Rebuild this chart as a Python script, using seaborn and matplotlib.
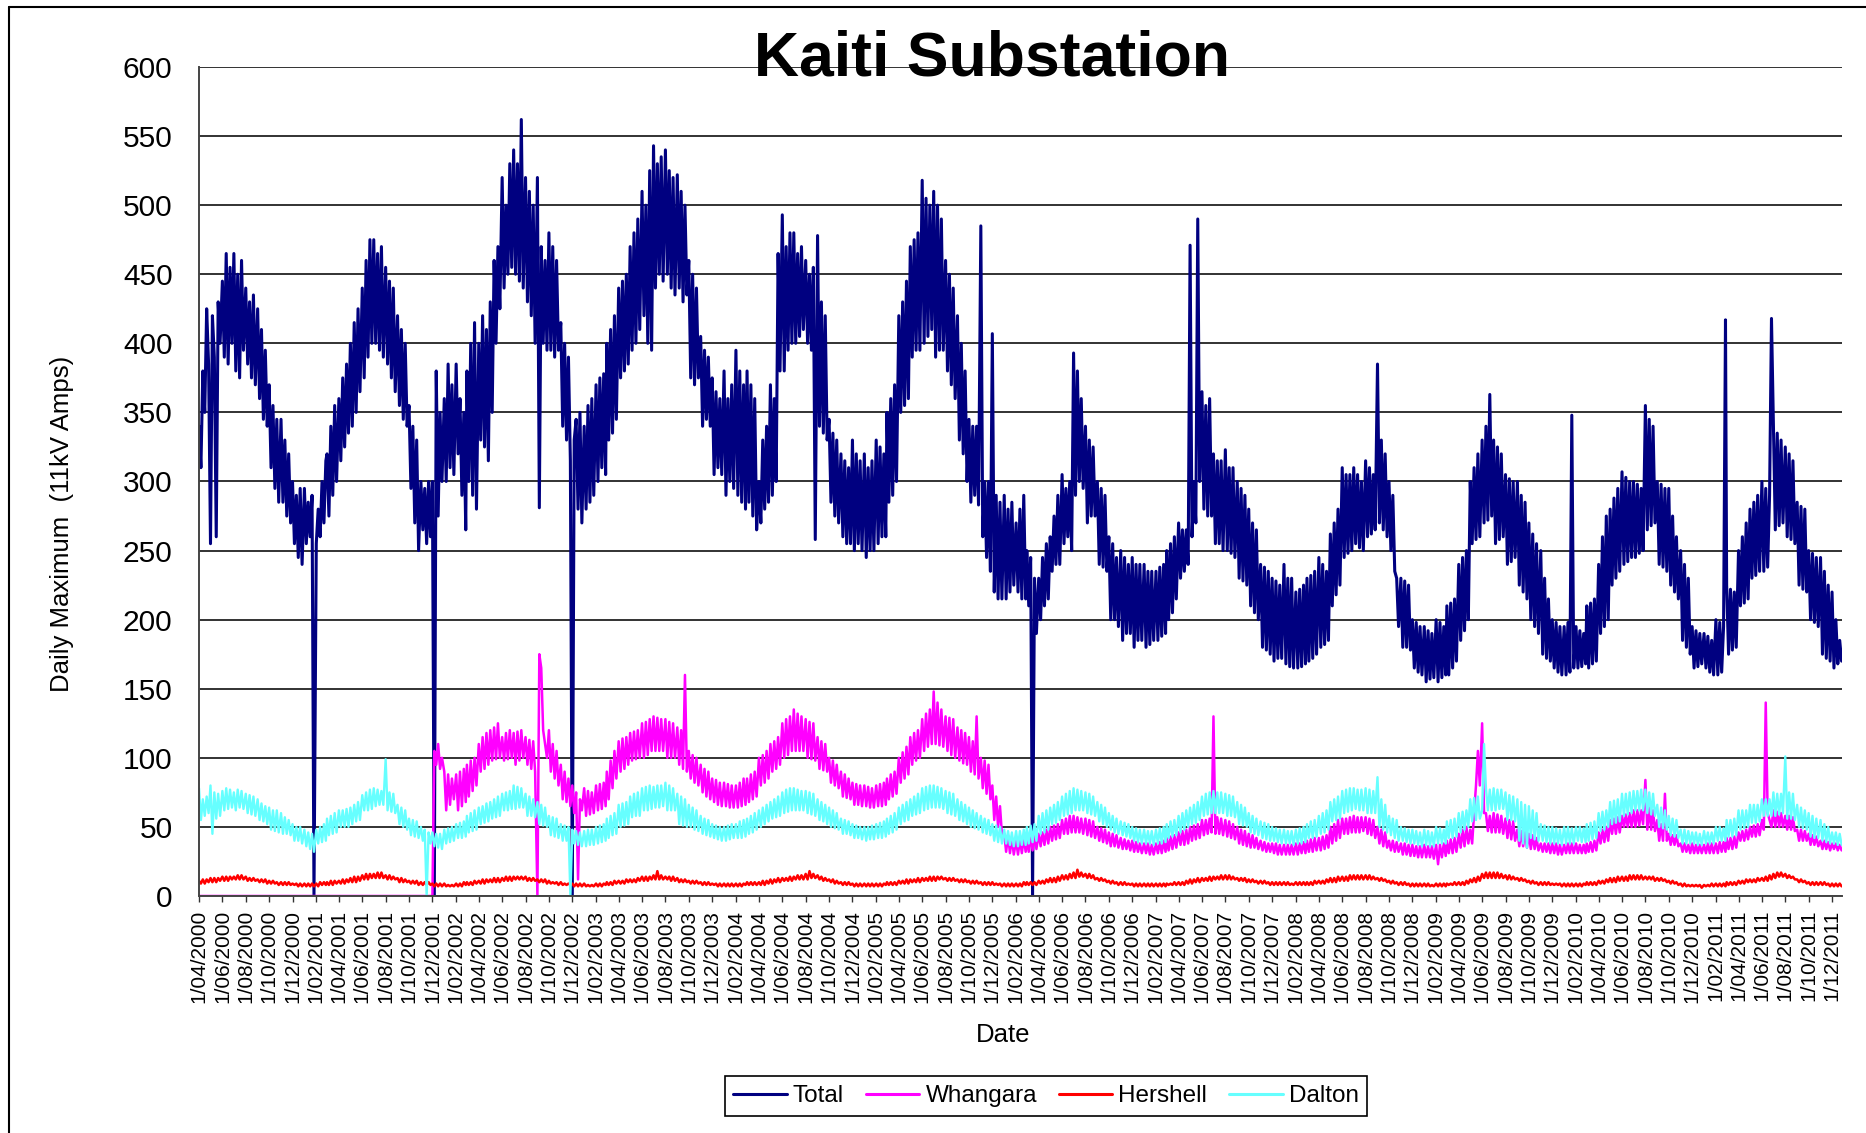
import pandas as pd
import matplotlib
matplotlib.use("Agg")
import matplotlib.pyplot as plt
from matplotlib.lines import Line2D
import seaborn as sns

# Daily-maximum feeder currents (11 kV amps). Six readings per month
# (1st, 6th, 11th, 16th, 21st, 26th), one row per month, alternating the
# upper and lower end of the day-to-day swing.

TOTAL_2000 = [
    [340, 310, 380, 350, 425, 385], [255, 420, 390, 260, 430, 400],
    [445, 390, 465, 385, 455, 400], [465, 380, 450, 375, 460, 395],
    [440, 385, 430, 375, 435, 370], [425, 360, 410, 345, 395, 340],
    [370, 310, 355, 295, 345, 285], [345, 285, 330, 275, 320, 270],
    [300, 255, 290, 245, 295, 240]]
TOTAL_2001 = [
    [295, 255, 285, 260, 290, 0], [255, 280, 260, 300, 270, 315],
    [320, 275, 340, 290, 355, 300], [360, 315, 375, 325, 385, 335],
    [400, 340, 415, 350, 425, 365], [440, 375, 460, 390, 475, 400],
    [475, 400, 465, 395, 470, 390], [455, 385, 445, 375, 440, 365],
    [420, 355, 410, 345, 400, 340], [355, 295, 340, 270, 330, 250],
    [300, 265, 295, 255, 300, 260], [300, 0, 380, 275, 350, 300]]
TOTAL_2002 = [
    [360, 300, 385, 310, 370, 305], [385, 320, 360, 290, 350, 265],
    [380, 300, 400, 290, 415, 280], [400, 330, 420, 325, 410, 315],
    [430, 350, 460, 400, 470, 425], [520, 440, 500, 450, 530, 455],
    [540, 450, 530, 445, 562, 440], [520, 430, 510, 420, 500, 400],
    [520, 281, 470, 400, 460, 395], [480, 395, 470, 390, 460, 395],
    [415, 340, 400, 330, 390, 315], [0, 330, 345, 280, 350, 270]]
TOTAL_2003 = [
    [340, 280, 355, 285, 360, 290], [370, 300, 375, 310, 378, 305],
    [400, 330, 410, 335, 420, 345], [440, 375, 445, 380, 450, 385],
    [470, 395, 480, 400, 490, 410], [510, 420, 500, 400, 525, 395],
    [543, 440, 530, 450, 535, 445], [540, 450, 525, 440, 520, 435],
    [522, 440, 510, 430, 500, 435], [460, 375, 450, 370, 440, 375],
    [405, 340, 395, 345, 390, 340], [375, 305, 365, 310, 360, 305]]
TOTAL_2004 = [
    [380, 290, 360, 300, 370, 295], [395, 290, 380, 285, 370, 280],
    [380, 285, 370, 275, 360, 265], [300, 270, 330, 280, 340, 285],
    [370, 290, 360, 300, 465, 380], [493, 380, 470, 395, 480, 400],
    [480, 400, 465, 405, 470, 410], [460, 400, 450, 395, 455, 258],
    [478, 340, 430, 335, 420, 330], [345, 285, 335, 275, 330, 270],
    [320, 260, 315, 255, 310, 255], [330, 250, 320, 255, 315, 250]]
TOTAL_2005 = [
    [320, 245, 310, 250, 315, 250], [330, 255, 325, 260, 320, 260],
    [350, 285, 360, 290, 370, 300], [420, 350, 430, 355, 445, 360],
    [470, 390, 475, 395, 480, 395], [518, 400, 505, 405, 500, 410],
    [510, 390, 500, 395, 490, 395], [460, 380, 450, 370, 440, 360],
    [420, 330, 400, 320, 380, 300], [345, 285, 340, 290, 340, 283],
    [485, 260, 300, 245, 300, 235], [407, 220, 290, 215, 285, 215]]
TOTAL_2006 = [
    [290, 215, 280, 220, 285, 225], [270, 220, 280, 215, 290, 215],
    [250, 210, 245, 0, 230, 190], [230, 200, 245, 210, 255, 215],
    [260, 235, 275, 240, 290, 240], [305, 255, 295, 260, 300, 250],
    [393, 290, 380, 300, 360, 295], [340, 270, 330, 275, 325, 275],
    [300, 240, 295, 238, 290, 235], [260, 200, 255, 200, 245, 195],
    [250, 185, 245, 190, 240, 190], [245, 180, 240, 185, 240, 185]]
TOTAL_2007 = [
    [240, 180, 235, 182, 235, 185], [235, 185, 238, 188, 240, 190],
    [250, 200, 255, 205, 260, 215], [270, 230, 265, 235, 265, 240],
    [471, 260, 300, 270, 490, 300], [365, 280, 355, 275, 360, 275],
    [320, 255, 315, 255, 315, 250], [323, 250, 310, 248, 310, 245],
    [300, 230, 295, 228, 290, 225], [280, 210, 270, 205, 265, 200],
    [240, 180, 238, 178, 235, 175], [230, 170, 228, 172, 225, 172]]
TOTAL_2008 = [
    [240, 168, 230, 166, 230, 165], [220, 165, 222, 166, 225, 168],
    [230, 170, 232, 172, 235, 175], [245, 180, 240, 182, 235, 185],
    [262, 210, 270, 218, 280, 225], [310, 245, 305, 248, 305, 250],
    [310, 255, 305, 252, 300, 250], [315, 260, 310, 262, 305, 265],
    [385, 270, 330, 265, 320, 260], [300, 250, 290, 235, 230, 195],
    [230, 180, 228, 180, 225, 178], [200, 165, 198, 162, 195, 160]]
TOTAL_2009 = [
    [195, 155, 192, 157, 190, 158], [200, 155, 198, 158, 195, 160],
    [210, 160, 212, 165, 215, 170], [240, 185, 245, 192, 250, 200],
    [300, 255, 310, 258, 320, 260], [330, 270, 340, 272, 363, 275],
    [330, 255, 325, 258, 320, 260], [305, 240, 302, 242, 300, 245],
    [300, 225, 290, 220, 285, 215], [270, 200, 262, 195, 255, 190],
    [250, 175, 230, 172, 215, 170], [200, 165, 198, 162, 195, 160]]
TOTAL_2010 = [
    [195, 160, 198, 162, 348, 165], [195, 165, 192, 166, 190, 168],
    [210, 165, 212, 168, 215, 170], [240, 190, 260, 195, 275, 200],
    [280, 225, 288, 230, 295, 235], [307, 240, 303, 242, 300, 245],
    [300, 245, 298, 248, 295, 250], [355, 265, 345, 268, 340, 270],
    [300, 240, 298, 238, 295, 235], [295, 225, 275, 220, 260, 215],
    [250, 185, 240, 180, 230, 175], [195, 165, 192, 166, 190, 168]]
TOTAL_2011 = [
    [190, 165, 188, 162, 185, 160], [200, 160, 198, 162, 195, 417],
    [225, 175, 222, 178, 220, 180], [250, 210, 260, 212, 270, 215],
    [280, 230, 285, 232, 290, 235], [300, 235, 295, 238, 290, 418],
    [340, 265, 335, 268, 330, 270], [325, 260, 320, 258, 315, 255],
    [285, 225, 282, 222, 280, 220], [250, 200, 248, 198, 245, 195],
    [245, 175, 235, 172, 225, 170], [220, 165, 200, 168, 185, 170]]

WHANGARA_2000 = [[0, 0, 0, 0, 0, 0]] * 9
WHANGARA_2001 = [[0, 0, 0, 0, 0, 0]] * 11 + [[0, 105, 95, 110, 92, 100]]
WHANGARA_2002 = [
    [90, 62, 88, 66, 85, 70], [88, 62, 90, 65, 92, 68],
    [95, 72, 98, 76, 100, 80], [110, 90, 115, 92, 118, 95],
    [120, 98, 122, 99, 125, 100], [115, 98, 118, 99, 120, 100],
    [118, 95, 119, 98, 120, 100], [115, 95, 113, 92, 112, 90],
    [0, 175, 165, 120, 110, 100], [120, 90, 110, 85, 105, 80],
    [95, 70, 90, 68, 85, 65], [80, 60, 75, 12, 70, 62]]
WHANGARA_2003 = [
    [78, 58, 76, 59, 75, 60], [80, 62, 81, 63, 82, 65],
    [90, 70, 98, 78, 105, 85], [112, 90, 114, 92, 115, 95],
    [118, 98, 119, 99, 120, 100], [125, 100, 126, 102, 128, 105],
    [130, 105, 129, 105, 128, 105], [128, 100, 126, 100, 125, 100],
    [122, 95, 120, 92, 160, 90], [105, 85, 102, 82, 100, 80],
    [95, 75, 92, 72, 90, 70], [85, 68, 84, 66, 82, 65]]
WHANGARA_2004 = [
    [82, 65, 81, 64, 80, 64], [80, 64, 82, 65, 85, 66],
    [85, 68, 88, 70, 90, 72], [100, 80, 102, 82, 105, 85],
    [110, 90, 112, 92, 115, 95], [125, 100, 128, 102, 130, 105],
    [135, 105, 132, 105, 130, 105], [128, 100, 126, 99, 125, 98],
    [115, 92, 112, 91, 110, 90], [100, 82, 98, 80, 95, 78],
    [90, 72, 88, 71, 85, 70], [82, 66, 81, 66, 80, 65]]
WHANGARA_2005 = [
    [80, 65, 79, 64, 78, 64], [80, 65, 81, 65, 82, 66],
    [85, 70, 88, 72, 90, 74], [100, 82, 104, 85, 108, 88],
    [115, 95, 118, 98, 120, 100], [128, 105, 132, 108, 135, 110],
    [148, 110, 140, 109, 135, 108], [130, 105, 129, 102, 128, 100],
    [122, 98, 120, 96, 118, 95], [115, 90, 112, 88, 130, 85],
    [100, 78, 98, 74, 95, 70], [80, 55, 72, 50, 65, 45]]
WHANGARA_2006 = [
    [45, 32, 44, 31, 42, 30], [40, 30, 41, 31, 42, 32],
    [42, 32, 43, 33, 44, 34], [45, 36, 46, 37, 48, 38],
    [50, 40, 51, 41, 52, 42], [55, 45, 56, 45, 58, 46],
    [58, 46, 57, 46, 56, 45], [56, 44, 55, 43, 54, 42],
    [50, 40, 49, 39, 48, 38], [46, 36, 45, 36, 44, 35],
    [42, 34, 41, 34, 40, 33], [40, 32, 39, 32, 38, 31]]
WHANGARA_2007 = [
    [38, 31, 38, 30, 37, 30], [38, 31, 39, 31, 40, 32],
    [42, 33, 43, 34, 44, 35], [46, 37, 47, 37, 48, 38],
    [50, 40, 51, 41, 52, 42], [55, 44, 55, 45, 56, 46],
    [130, 45, 57, 45, 56, 44], [55, 43, 54, 42, 52, 41],
    [50, 38, 48, 37, 47, 36], [45, 35, 44, 35, 42, 34],
    [40, 33, 39, 32, 38, 32], [38, 31, 38, 30, 37, 30]]
WHANGARA_2008 = [
    [37, 30, 37, 30, 37, 30], [38, 30, 38, 31, 39, 31],
    [40, 32, 41, 32, 42, 33], [42, 33, 43, 34, 44, 35],
    [50, 38, 52, 40, 55, 42], [56, 45, 56, 45, 57, 46],
    [58, 46, 57, 46, 57, 47], [57, 45, 56, 44, 55, 42],
    [50, 38, 48, 36, 46, 35], [40, 33, 40, 32, 39, 32],
    [38, 30, 38, 30, 37, 29], [37, 29, 36, 28, 36, 28]]
WHANGARA_2009 = [
    [37, 28, 36, 28, 36, 27], [37, 23, 37, 28, 38, 29],
    [40, 31, 41, 31, 42, 32], [45, 35, 48, 36, 50, 38],
    [48, 38, 60, 80, 105, 80], [125, 60, 60, 47, 58, 46],
    [60, 46, 59, 46, 58, 45], [56, 42, 55, 41, 54, 40],
    [48, 36, 47, 36, 46, 35], [45, 34, 44, 34, 42, 33],
    [38, 32, 38, 32, 38, 31], [38, 31, 38, 30, 37, 30]]
WHANGARA_2010 = [
    [37, 31, 38, 31, 38, 31], [38, 31, 37, 31, 37, 31],
    [38, 32, 39, 32, 40, 33], [46, 38, 48, 39, 50, 40],
    [55, 45, 56, 45, 57, 46], [58, 50, 59, 50, 60, 50],
    [62, 50, 62, 51, 62, 52], [84, 48, 64, 48, 62, 47],
    [55, 40, 52, 40, 74, 40], [45, 37, 44, 37, 44, 36],
    [38, 32, 38, 32, 37, 31], [38, 31, 37, 31, 37, 31]]
WHANGARA_2011 = [
    [37, 31, 38, 31, 38, 31], [38, 31, 39, 32, 39, 32],
    [42, 34, 42, 34, 43, 35], [46, 40, 47, 40, 48, 41],
    [50, 43, 51, 43, 52, 44], [55, 48, 140, 60, 55, 50],
    [62, 50, 61, 50, 60, 50], [58, 48, 58, 48, 57, 47],
    [48, 40, 48, 40, 47, 40], [45, 37, 44, 37, 43, 36],
    [40, 34, 40, 34, 39, 33], [38, 34, 38, 33, 37, 33]]

HERSHELL_2000 = [
    [11, 9, 12, 9, 12, 10], [13, 10, 13, 10, 13, 11], [14, 11, 14, 11, 14, 12],
    [14, 12, 15, 12, 15, 12], [14, 11, 13, 11, 13, 11], [12, 10, 12, 10, 12, 9],
    [11, 9, 11, 9, 10, 8], [10, 8, 10, 8, 10, 8], [9, 8, 9, 7, 9, 7]]
HERSHELL_2001 = [
    [9, 7, 9, 7, 9, 7], [9, 7, 10, 8, 10, 8], [10, 8, 11, 8, 11, 9],
    [11, 9, 12, 9, 12, 10], [13, 10, 14, 10, 14, 11], [15, 12, 16, 12, 16, 13],
    [16, 13, 17, 13, 17, 13], [15, 12, 15, 12, 14, 12], [13, 10, 13, 10, 12, 10],
    [11, 9, 11, 9, 11, 8], [10, 8, 10, 8, 10, 8], [9, 7, 9, 7, 9, 7]]
HERSHELL_2002 = [
    [9, 7, 8, 7, 8, 7], [9, 7, 9, 7, 10, 8], [10, 8, 10, 8, 11, 9],
    [11, 9, 12, 9, 12, 10], [12, 10, 13, 10, 13, 10], [13, 11, 14, 11, 14, 11],
    [14, 12, 14, 12, 14, 12], [14, 11, 13, 11, 13, 11], [12, 10, 12, 10, 12, 9],
    [11, 9, 10, 9, 10, 8], [10, 8, 9, 8, 9, 8], [9, 7, 9, 7, 9, 7]]
HERSHELL_2003 = [
    [9, 7, 8, 7, 8, 7], [9, 7, 9, 7, 9, 8], [10, 8, 10, 8, 11, 9],
    [11, 9, 11, 9, 12, 10], [12, 10, 12, 10, 13, 11], [14, 11, 14, 11, 14, 12],
    [15, 12, 18, 12, 15, 12], [14, 12, 14, 11, 14, 11], [13, 10, 12, 10, 12, 10],
    [11, 9, 11, 9, 11, 9], [10, 8, 10, 8, 10, 8], [9, 8, 9, 7, 9, 7]]
HERSHELL_2004 = [
    [9, 7, 9, 7, 9, 7], [9, 7, 9, 7, 9, 8], [10, 8, 10, 8, 10, 8],
    [10, 8, 11, 8, 11, 9], [12, 9, 12, 10, 13, 10], [13, 11, 13, 11, 14, 11],
    [14, 12, 15, 12, 15, 12], [16, 12, 18, 13, 16, 13], [15, 12, 14, 11, 13, 11],
    [12, 10, 12, 9, 11, 9], [10, 8, 10, 8, 10, 8], [9, 7, 9, 7, 9, 7]]
HERSHELL_2005 = [
    [9, 7, 9, 7, 9, 7], [9, 7, 9, 7, 9, 8], [10, 8, 10, 8, 10, 8],
    [11, 9, 11, 9, 12, 9], [12, 10, 12, 10, 13, 10], [13, 11, 13, 11, 14, 11],
    [14, 11, 14, 12, 14, 12], [13, 11, 13, 11, 13, 11], [12, 10, 12, 10, 12, 10],
    [11, 9, 11, 9, 11, 9], [10, 8, 10, 8, 10, 8], [10, 8, 9, 8, 9, 7]]
HERSHELL_2006 = [
    [9, 7, 9, 7, 9, 7], [9, 7, 9, 7, 10, 8], [10, 8, 10, 8, 10, 8],
    [11, 9, 11, 9, 12, 10], [13, 10, 13, 10, 14, 11], [15, 12, 15, 12, 16, 13],
    [17, 13, 19, 14, 17, 14], [16, 13, 16, 13, 15, 12], [13, 11, 13, 11, 12, 10],
    [11, 9, 11, 9, 10, 8], [10, 8, 10, 8, 9, 8], [9, 7, 9, 7, 9, 7]]
HERSHELL_2007 = [
    [9, 7, 9, 7, 9, 7], [9, 7, 9, 7, 9, 7], [9, 8, 9, 8, 10, 8],
    [10, 8, 10, 8, 11, 9], [12, 9, 12, 10, 13, 10], [13, 11, 13, 11, 14, 11],
    [14, 12, 14, 12, 15, 12], [15, 12, 15, 12, 14, 12], [13, 11, 13, 11, 13, 10],
    [12, 10, 12, 10, 11, 9], [11, 9, 11, 9, 10, 8], [10, 8, 10, 8, 10, 8]]
HERSHELL_2008 = [
    [10, 8, 10, 8, 9, 8], [10, 8, 10, 8, 10, 8], [10, 8, 10, 8, 11, 9],
    [11, 9, 11, 9, 12, 10], [13, 10, 13, 10, 14, 11], [14, 11, 14, 11, 15, 12],
    [15, 12, 15, 12, 15, 12], [15, 12, 15, 12, 14, 12], [13, 11, 13, 11, 12, 10],
    [11, 9, 11, 9, 10, 8], [10, 8, 10, 8, 9, 7], [9, 7, 9, 7, 9, 7]]
HERSHELL_2009 = [
    [9, 7, 9, 7, 8, 7], [9, 7, 9, 7, 9, 7], [9, 8, 9, 8, 10, 8],
    [10, 8, 10, 8, 11, 9], [12, 10, 13, 10, 14, 11], [16, 13, 17, 13, 17, 13],
    [17, 13, 17, 13, 16, 13], [15, 12, 15, 12, 14, 12], [13, 11, 13, 11, 12, 10],
    [11, 9, 11, 9, 10, 8], [10, 8, 10, 8, 10, 8], [9, 8, 9, 8, 9, 7]]
HERSHELL_2010 = [
    [9, 7, 9, 7, 9, 7], [9, 7, 9, 7, 9, 8], [10, 8, 10, 8, 10, 8],
    [11, 9, 11, 9, 12, 10], [13, 10, 13, 10, 14, 11], [14, 11, 14, 11, 15, 12],
    [15, 12, 15, 12, 15, 12], [14, 12, 14, 12, 14, 11], [13, 11, 13, 11, 12, 10],
    [11, 9, 11, 9, 10, 8], [9, 7, 9, 7, 8, 7], [8, 7, 8, 7, 8, 6]]
HERSHELL_2011 = [
    [8, 7, 8, 7, 9, 7], [9, 7, 9, 7, 9, 7], [10, 8, 10, 8, 10, 8],
    [11, 9, 11, 9, 12, 10], [12, 10, 12, 10, 13, 11], [13, 11, 14, 11, 15, 12],
    [16, 13, 17, 14, 17, 14], [16, 13, 15, 13, 14, 12], [12, 10, 12, 10, 11, 9],
    [10, 8, 10, 8, 10, 8], [10, 8, 10, 8, 9, 7], [9, 7, 9, 7, 9, 7]]

DALTON_2000 = [
    [78, 55, 70, 58, 72, 60], [80, 45, 75, 56, 74, 58], [76, 62, 78, 63, 77, 64],
    [75, 62, 77, 64, 76, 63], [74, 60, 73, 59, 72, 58], [70, 55, 67, 54, 65, 52],
    [64, 48, 62, 47, 62, 46], [60, 45, 57, 45, 55, 44], [52, 40, 50, 40, 50, 38]]
DALTON_2001 = [
    [48, 36, 46, 34, 45, 32], [48, 38, 50, 39, 52, 40], [56, 44, 58, 45, 60, 46],
    [62, 50, 62, 50, 63, 50], [64, 52, 66, 54, 68, 55], [73, 62, 75, 62, 77, 63],
    [78, 65, 77, 66, 76, 66], [99, 62, 75, 61, 74, 60], [66, 52, 64, 50, 62, 48],
    [56, 44, 55, 43, 54, 42], [50, 40, 48, 0, 46, 38], [46, 36, 45, 35, 45, 34]]
DALTON_2002 = [
    [48, 38, 49, 39, 50, 40], [52, 42, 53, 42, 54, 43], [58, 46, 60, 47, 62, 48],
    [64, 52, 65, 53, 67, 54], [68, 56, 70, 57, 72, 58], [74, 62, 75, 62, 76, 63],
    [80, 63, 79, 64, 78, 64], [74, 58, 72, 58, 70, 57], [68, 52, 66, 51, 64, 50],
    [58, 44, 57, 43, 56, 42], [52, 40, 51, 40, 50, 0], [48, 38, 47, 37, 46, 36]]
DALTON_2003 = [
    [47, 36, 48, 37, 48, 37], [50, 38, 51, 39, 52, 40], [56, 42, 58, 44, 60, 45],
    [66, 50, 67, 51, 68, 52], [72, 57, 74, 58, 75, 58], [78, 62, 79, 62, 80, 63],
    [79, 64, 80, 64, 80, 65], [82, 62, 80, 62, 78, 62], [74, 52, 72, 51, 70, 50],
    [66, 50, 64, 48, 62, 47], [58, 45, 56, 44, 55, 43], [52, 42, 51, 41, 50, 40]]
DALTON_2004 = [
    [50, 40, 51, 41, 52, 42], [52, 42, 54, 42, 55, 43], [56, 45, 58, 46, 60, 48],
    [62, 50, 64, 52, 66, 54], [68, 56, 70, 57, 72, 58], [75, 60, 77, 61, 78, 62],
    [78, 62, 77, 62, 76, 62], [76, 60, 75, 59, 74, 58], [70, 55, 68, 54, 66, 52],
    [64, 50, 62, 49, 60, 48], [56, 45, 55, 45, 54, 44], [52, 42, 51, 42, 50, 41]]
DALTON_2005 = [
    [50, 40, 50, 41, 51, 41], [52, 42, 53, 42, 54, 43], [56, 45, 58, 46, 60, 48],
    [64, 52, 66, 54, 68, 55], [70, 58, 72, 59, 74, 60], [78, 62, 79, 63, 80, 64],
    [80, 64, 79, 64, 78, 63], [76, 60, 75, 59, 74, 58], [70, 55, 68, 54, 66, 52],
    [64, 50, 62, 49, 60, 48], [58, 46, 56, 45, 55, 44], [52, 40, 51, 39, 50, 38]]
DALTON_2006 = [
    [48, 38, 47, 37, 46, 36], [47, 36, 47, 37, 48, 37], [50, 38, 51, 39, 52, 40],
    [58, 45, 60, 46, 62, 48], [64, 52, 66, 53, 68, 55], [72, 58, 74, 59, 76, 60],
    [78, 62, 77, 62, 76, 62], [75, 60, 74, 59, 72, 58], [68, 54, 66, 52, 64, 50],
    [60, 48, 58, 46, 56, 45], [54, 44, 53, 43, 52, 42], [50, 40, 49, 39, 48, 38]]
DALTON_2007 = [
    [48, 38, 47, 38, 47, 37], [48, 38, 49, 38, 50, 39], [52, 42, 54, 43, 55, 44],
    [58, 46, 60, 48, 62, 50], [64, 52, 66, 53, 68, 55], [72, 58, 74, 59, 75, 60],
    [76, 60, 75, 60, 75, 60], [74, 58, 73, 58, 72, 57], [68, 52, 66, 51, 64, 50],
    [60, 46, 58, 45, 56, 44], [54, 42, 53, 41, 52, 40], [50, 40, 49, 39, 48, 38]]
DALTON_2008 = [
    [48, 38, 47, 38, 47, 37], [48, 38, 49, 38, 50, 39], [52, 42, 54, 42, 55, 43],
    [58, 45, 60, 46, 62, 48], [68, 54, 70, 55, 72, 56], [76, 60, 77, 61, 78, 62],
    [78, 63, 77, 62, 77, 62], [78, 60, 77, 60, 76, 60], [86, 50, 70, 48, 66, 46],
    [58, 44, 56, 42, 55, 40], [50, 40, 49, 39, 48, 38], [48, 38, 47, 37, 46, 36]]
DALTON_2009 = [
    [48, 37, 47, 36, 46, 36], [50, 38, 49, 38, 48, 38], [54, 42, 55, 42, 56, 43],
    [60, 46, 61, 48, 62, 50], [70, 54, 71, 55, 72, 56], [62, 110, 78, 62, 77, 62],
    [78, 62, 77, 63, 77, 63], [75, 55, 73, 55, 72, 54], [70, 40, 68, 38, 66, 35],
    [65, 42, 62, 41, 60, 40], [52, 40, 51, 39, 50, 38], [50, 38, 49, 38, 48, 37]]
DALTON_2010 = [
    [50, 38, 50, 38, 49, 38], [50, 40, 50, 39, 49, 39], [52, 40, 53, 41, 54, 42],
    [60, 47, 61, 48, 62, 50], [68, 52, 69, 53, 70, 54], [74, 58, 74, 59, 75, 60],
    [76, 62, 76, 62, 77, 62], [77, 60, 75, 59, 74, 58], [66, 50, 64, 49, 62, 48],
    [58, 44, 56, 43, 55, 42], [48, 38, 48, 38, 47, 38], [46, 38, 46, 37, 45, 37]]
DALTON_2011 = [
    [47, 38, 46, 38, 46, 38], [50, 40, 50, 40, 49, 40], [55, 43, 55, 43, 56, 44],
    [62, 48, 62, 49, 62, 50], [66, 53, 66, 53, 66, 54], [70, 58, 70, 58, 70, 58],
    [75, 58, 74, 59, 74, 60], [101, 56, 75, 56, 74, 55], [66, 50, 64, 49, 62, 48],
    [60, 43, 58, 42, 56, 42], [55, 40, 52, 39, 50, 38], [46, 38, 46, 37, 45, 37]]

SERIES = ["Total", "Whangara", "Hershell", "Dalton"]
COLORS = {"Total": "#000080", "Whangara": "#FF00FF",
          "Hershell": "#FF0000", "Dalton": "#66FFFF"}
WIDTHS = {"Total": 2.2, "Whangara": 1.8, "Hershell": 1.8, "Dalton": 1.7}
YEARS = range(2000, 2012)


def flatten(prefix):
    rows = []
    for year in YEARS:
        rows.extend(globals()[f"{prefix}_{year}"])
    return [v for row in rows for v in row]


readings = {
    "Total": flatten("TOTAL"),
    "Whangara": flatten("WHANGARA"),
    "Hershell": flatten("HERSHELL"),
    "Dalton": flatten("DALTON"),
}

month_starts = pd.date_range("2000-04-01", "2011-12-01", freq="MS")
reading_days = [0, 5, 10, 15, 20, 25]
dates = [m + pd.Timedelta(days=d) for m in month_starts for d in reading_days]

frames = []
for name in SERIES:
    vals = readings[name]
    if len(vals) != len(dates):
        raise ValueError(f"{name}: {len(vals)} readings for {len(dates)} dates")
    frames.append(pd.DataFrame({"Date": dates, "Amps": vals, "Feeder": name}))
df = pd.concat(frames, ignore_index=True)

sns.set_style("white")
plt.rcParams["font.family"] = ["Liberation Sans", "DejaVu Sans"]
plt.rcParams["text.color"] = "black"
plt.rcParams["xtick.color"] = "black"
plt.rcParams["ytick.color"] = "black"

W, H = 1866, 1133
fig = plt.figure(figsize=(W / 100, H / 100), dpi=100)
ax = fig.add_axes([199 / W, 1 - 896 / H, (1842 - 199) / W, (896 - 67) / H])

for name in SERIES:
    sns.lineplot(data=df[df["Feeder"] == name], x="Date", y="Amps",
                 color=COLORS[name], linewidth=WIDTHS[name],
                 estimator=None, errorbar=None, sort=True,
                 legend=False, ax=ax)

ticks = pd.date_range("2000-04-01", "2011-12-01", freq="2MS")
ax.set_xticks(ticks)
ax.set_xticklabels([f"1/{t.month:02d}/{t.year}" for t in ticks],
                   rotation=90, fontsize=15, color="black")
ax.set_xlim(pd.Timestamp("2000-04-01"), pd.Timestamp("2011-12-27"))
ax.set_ylim(0, 600)
ax.set_yticks(range(0, 601, 50))
ax.tick_params(axis="y", left=False, length=0, pad=19, labelsize=21.5,
               labelcolor="black")
ax.tick_params(axis="x", bottom=True, direction="out", length=4.5,
               width=1.0, color="#333333", pad=5.5)
ax.yaxis.grid(True, color="#222222", linewidth=1.3)
ax.xaxis.grid(False)
ax.set_axisbelow(True)
for side in ("top", "right"):
    ax.spines[side].set_visible(False)
for side in ("left", "bottom"):
    ax.spines[side].set_color("#444444")
    ax.spines[side].set_linewidth(1.4)
ax.set_xlabel("")
ax.set_ylabel("")

fig.text(992 / W, 1 - 76 / H, "Kaiti Substation", ha="center",
         va="baseline", fontsize=45, fontweight="bold", color="black")
fig.text(62 / W, 1 - 524 / H, "Daily Maximum  (11kV Amps)", rotation=90,
         ha="center", va="center", fontsize=18.5, color="black")
fig.text(1003 / W, 1 - 1035 / H, "Date", ha="center", va="center",
         fontsize=18.5, color="black")

handles = [Line2D([], [], color=COLORS[n], linewidth=2.2) for n in SERIES]
leg = fig.legend(handles, SERIES, loc="center",
                 bbox_to_anchor=(1046 / W, 1 - 1096 / H), ncol=4,
                 fontsize=17.5, frameon=True, fancybox=False, shadow=False,
                 framealpha=1, edgecolor="black", handlelength=2.2,
                 handletextpad=0.25, columnspacing=0.9, borderpad=0.35)
leg.get_frame().set_linewidth(1.2)
for text in leg.get_texts():
    text.set_color("black")

# chart-area border (left and top edges)
fig.add_artist(Line2D([9 / W, 9 / W], [0, 1 - 7 / H], color="black",
                      linewidth=1.5))
fig.add_artist(Line2D([9 / W, 1], [1 - 7 / H, 1 - 7 / H], color="black",
                      linewidth=1.5))

fig.savefig("out.png", dpi=100)
